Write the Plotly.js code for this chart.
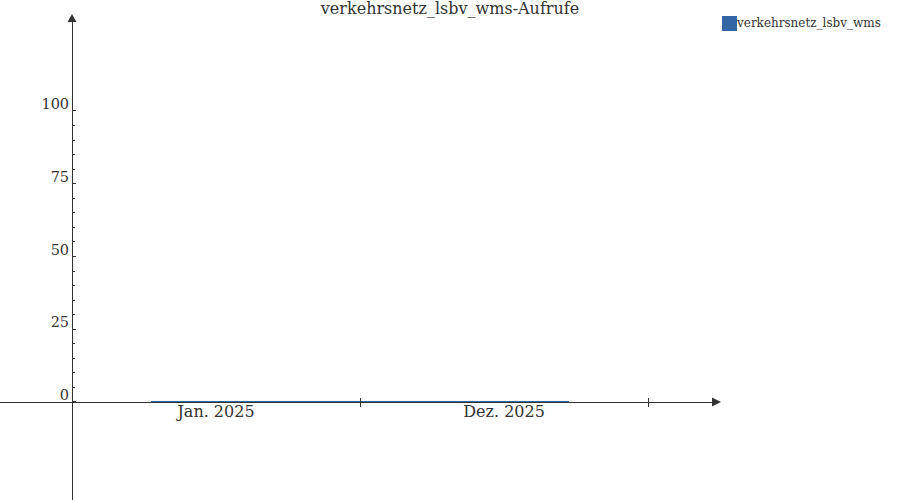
<!DOCTYPE html>
<html>
<head>
<meta charset="utf-8">
<script src="https://cdn.plot.ly/plotly-3.0.1.min.js"></script>
<style>html,body{margin:0;padding:0;background:#fff;}#chart{width:900px;height:500px;}</style>
</head>
<body>
<div id="chart"></div>
<script>
// ---- data ----
const chartTitle = "verkehrsnetz_lsbv_wms-Aufrufe";
const seriesName = "verkehrsnetz_lsbv_wms";
const categories = ["Jan. 2025", "Dez. 2025"];
const values = [0.35, 0.35];
const yTickVals = [0, 25, 50, 75, 100];
const yTickText = ["0", "25", "50", "75", "100"];
const yMinorVals = [5,10,15,20,30,35,40,45,55,60,65,70,80,85,90,95];

// ---- layout constants ----
const W = 900, H = 500;
const FONT = "DejaVu Serif";
const AX = "#333333";
const BLUE = "#3465a4";
const xRange = [-0.75, 1.722];
const yRange = [-33.68, 130.58];
const xDomTop = 712 / W;        // end of x axis line (arrow base)
const yDomTop = 1 - 22 / H;     // end of y axis line (arrow base)
const yAxisPos = 72 / W;        // paper x of y axis
const xAxisPos = 1 - 402 / H;   // paper y of x axis

const px = v => v / W;
const py = v => 1 - v / H;

const trace = {
  type: "bar",
  name: seriesName,
  x: categories,
  y: values,
  offset: [-0.226, -0.5],
  width: [0.726, 0.726],
  marker: {color: BLUE, line: {width: 0}},
  xaxis: "x", yaxis: "y",
  showlegend: false,
  hoverinfo: "skip"
};

const layout = {
  width: W, height: H,
  margin: {l: 0, r: 0, t: 0, b: 0, pad: 0, autoexpand: false},
  paper_bgcolor: "#fff", plot_bgcolor: "rgba(0,0,0,0)",
  showlegend: false,
  bargap: 0,
  title: {
    text: chartTitle,
    font: {family: FONT, size: 16, color: AX},
    x: 0.5, xref: "paper", xanchor: "center",
    y: py(3), yref: "paper", yanchor: "top", pad: {t: 0, b: 0, l: 0, r: 0}
  },
  xaxis: {
    type: "category",
    domain: [0, xDomTop],
    range: xRange,
    anchor: "free", position: xAxisPos,
    showline: true, linecolor: AX, linewidth: 1,
    showgrid: false, zeroline: false,
    ticks: "",
    tickfont: {family: FONT, size: 16, color: AX},
    ticklabelstandoff: -5,
    automargin: false, fixedrange: true,
    layer: "above traces"
  },
  xaxis2: {
    overlaying: "x", type: "linear",
    domain: [0, xDomTop], range: xRange,
    anchor: "free", position: xAxisPos,
    showline: false, showgrid: false, zeroline: false,
    tickvals: [-0.5, 0.5, 1.5], ticks: "outside", ticklen: 4, tickcolor: AX, tickwidth: 1,
    showticklabels: false, automargin: false
  },
  xaxis3: {
    overlaying: "x", type: "linear",
    domain: [0, xDomTop], range: xRange,
    anchor: "free", position: xAxisPos,
    showline: false, showgrid: false, zeroline: false,
    tickvals: [-0.5, 0.5, 1.5], ticks: "inside", ticklen: 4, tickcolor: AX, tickwidth: 1,
    showticklabels: false, automargin: false
  },
  yaxis: {
    domain: [0, yDomTop],
    range: yRange,
    anchor: "free", position: yAxisPos,
    showline: true, linecolor: AX, linewidth: 1,
    showgrid: false, zeroline: false,
    tickvals: yTickVals, ticktext: yTickText,
    ticks: "inside", ticklen: 3, tickcolor: AX, tickwidth: 1,
    minor: {tickvals: yMinorVals, ticks: "inside", ticklen: 2, tickcolor: AX, tickwidth: 1, showgrid: false},
    tickfont: {family: FONT, size: 14.5, color: AX},
    ticklabelshift: -7,
    automargin: false, fixedrange: true,
    layer: "above traces"
  },
  shapes: [
    // y axis arrowhead
    {type: "path", xref: "paper", yref: "paper",
     path: `M ${px(67.5)} ${py(22)} L ${px(76.5)} ${py(22)} L ${px(72)} ${py(14)} Z`,
     fillcolor: AX, line: {width: 0}},
    // x axis arrowhead
    {type: "path", xref: "paper", yref: "paper",
     path: `M ${px(712)} ${py(397.5)} L ${px(712)} ${py(406.5)} L ${px(721)} ${py(402)} Z`,
     fillcolor: AX, line: {width: 0}},
    // legend swatch
    {type: "rect", xref: "paper", yref: "paper",
     x0: px(722), x1: px(737), y0: py(31), y1: py(16),
     fillcolor: BLUE, line: {width: 0}}
  ],
  annotations: [
    {xref: "paper", yref: "paper", x: px(734), y: py(23), xanchor: "left", yanchor: "middle",
     text: seriesName, showarrow: false, font: {family: FONT, size: 12, color: AX}}
  ]
};

const dummy2 = {type: "scatter", x: [], y: [], xaxis: "x2", yaxis: "y", showlegend: false, hoverinfo: "skip"};
const dummy3 = {type: "scatter", x: [], y: [], xaxis: "x3", yaxis: "y", showlegend: false, hoverinfo: "skip"};

Plotly.newPlot("chart", [trace, dummy2, dummy3], layout, {staticPlot: true, displayModeBar: false});
</script>
</body>
</html>
